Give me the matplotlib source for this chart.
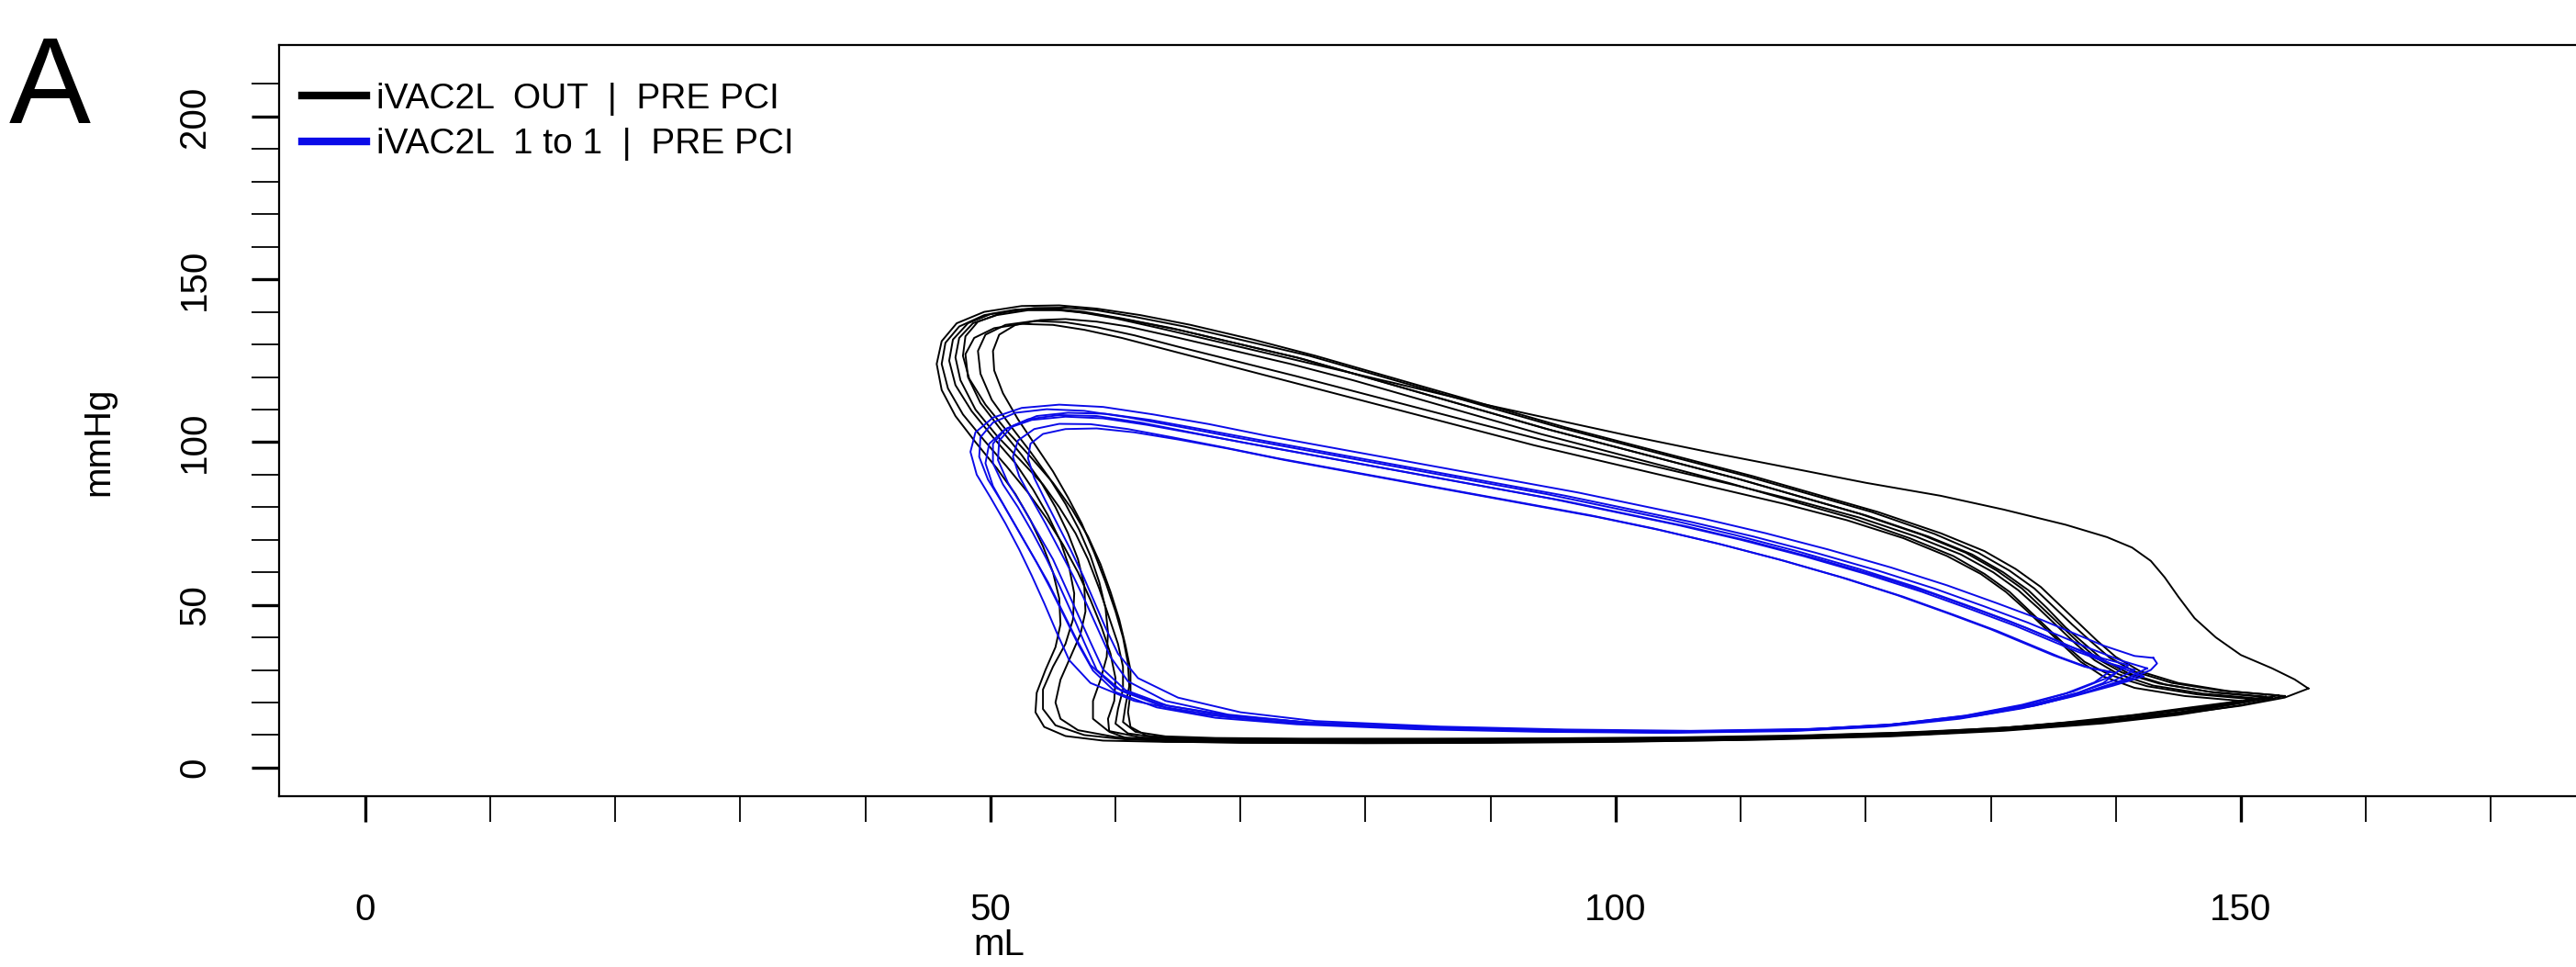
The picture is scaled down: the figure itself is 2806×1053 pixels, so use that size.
import matplotlib
matplotlib.use("Agg")
import matplotlib.pyplot as plt
from matplotlib.lines import Line2D

# PV loops (volume mL, pressure mmHg)
# iVAC2L OUT | PRE PCI  (black)
out_x1 = [152.5, 148, 144, 141, 139, 137.5, 136, 134.5, 133, 131, 128.5, 125, 120, 115, 110, 105, 100, 95, 90, 85, 80, 75, 70, 65, 61, 58, 55.5, 53, 50.5, 48.6, 47.5, 47.2, 47.6, 48.8, 50.5, 52.5, 54.2, 55.5, 56.8, 57.8, 58.7, 59.5, 60.2, 60.6, 60.6, 60.2, 60, 61, 63.5, 68, 75, 85, 95, 105, 115, 125, 133, 140, 145, 149, 152.5]
out_y1 = [21.5, 23, 25.5, 29, 33, 38, 43, 49, 54.5, 60, 65.5, 71, 77.5, 83, 88.5, 93.5, 98.5, 103.5, 109, 114.5, 120, 125.5, 130, 134.5, 137.5, 139.5, 140.5, 140.5, 139, 136.5, 132, 126, 119, 110, 102, 94, 87, 80, 72, 64, 55, 46, 38, 31, 24, 18, 13.5, 10.5, 9.2, 8.8, 8.6, 8.6, 8.7, 9, 9.6, 10.8, 12.5, 14.8, 17, 19.3, 21.5]
out_x2 = [153.5, 149, 145, 142, 140, 138.5, 137, 135.5, 134, 132, 129.5, 126, 121, 116, 111, 106, 101, 96, 91, 86, 81, 76, 71, 66, 62, 58.5, 55.5, 52.5, 49.5, 47.3, 46.1, 45.7, 46.1, 47.2, 48.8, 50.5, 52, 53.2, 54.2, 55, 55.5, 55.6, 55.2, 54.4, 53.7, 53.6, 54.3, 56, 59, 64, 72, 82, 92, 102, 112, 122, 131, 139, 145, 150, 153.5]
out_y2 = [22, 23.5, 26, 29.5, 34, 39, 44.5, 50, 55.5, 61, 66.5, 72, 78.5, 84, 89.5, 94.5, 99.5, 104.5, 110, 115.5, 121, 126.5, 131.5, 136, 139, 141, 142, 141.8, 140, 136.5, 131, 124, 116, 108, 100, 92, 84, 76, 68, 60, 52, 44, 37, 30, 23, 17, 12.5, 9.7, 8.3, 7.9, 7.8, 7.8, 7.9, 8.1, 8.6, 9.6, 11.3, 13.6, 16.2, 19.2, 22]
out_x3 = [151, 146.5, 142.5, 139.5, 137.5, 136, 134.5, 133, 131.5, 129.5, 127, 123.5, 119, 114, 109, 104, 99, 94, 89, 84, 79, 74, 69, 64.5, 61, 58.5, 56, 54, 52, 50.7, 50.2, 50.3, 51, 52.2, 53.6, 55, 56.2, 57.3, 58.3, 59.2, 60, 60.6, 61, 61.1, 60.8, 60.6, 61.6, 64, 68, 75, 85, 95, 105, 115, 125, 132, 138, 143, 147.5, 151]
out_y3 = [21, 22.5, 25, 28.5, 32.5, 37.5, 43, 48.5, 54, 59.5, 65, 70.5, 76.5, 82, 87.5, 92.5, 97.5, 102.5, 108, 113.5, 119, 124, 128.5, 132.5, 135.5, 137, 137.8, 137.5, 136, 133, 128, 122, 115, 107, 99, 91, 83, 75, 66, 57, 48, 40, 32, 25, 19, 14, 11, 9.6, 9.1, 8.9, 8.9, 9, 9.3, 9.9, 11, 12.5, 14.5, 16.8, 19, 21]
out_x4 = [150, 145.5, 141.5, 139, 137.2, 135.8, 134.3, 132.8, 131.2, 129.2, 126.5, 123, 118.5, 113.5, 108.5, 103.5, 98.5, 93.5, 88.5, 83.5, 78.5, 73.5, 68.5, 64, 60.5, 57.5, 55, 52.5, 50.3, 48.7, 48, 48.2, 49.2, 50.8, 52.5, 54, 55.2, 56.2, 57, 57.5, 57.6, 57.2, 56.4, 55.6, 55.2, 55.6, 57, 60, 65, 72, 82, 92, 102, 112, 122, 130, 136, 141.5, 146, 150]
out_y4 = [20.5, 22, 24.5, 28, 32.5, 37.5, 43, 48.5, 54, 59.5, 65, 70.5, 76, 81, 85.5, 90, 94.5, 99, 104, 109, 114, 119, 124, 128.5, 132, 134.5, 136, 136.3, 135, 132, 127, 120, 112, 104, 96, 88, 80, 72, 64, 56, 48, 41, 34, 27, 20, 15, 11.5, 9.4, 8.4, 8.1, 8, 8.1, 8.4, 9, 10.2, 11.9, 13.9, 16.2, 18.5, 20.5]
out_x5 = [155.4, 154.3, 152.5, 150, 148, 146.3, 145, 143.9, 142.8, 141.3, 139.3, 136, 131, 126, 120, 114.7, 108, 101, 95, 89, 83, 78, 73, 68, 63.5, 60, 57, 54.5, 52, 49.5, 47.5, 46.4, 46.1, 46.6, 47.8, 49.5, 51.3, 53, 54.5, 55.8, 57, 58, 58.9, 59.6, 60, 59.9, 59.4, 59.5, 61, 64, 70, 80, 90, 100, 110, 120, 130, 138, 145, 150, 153.5, 155.4]
out_y5 = [24.3, 27.1, 30.5, 34.6, 40, 45.9, 52.5, 58.5, 63.5, 67.6, 70.8, 74.6, 79.3, 83.5, 87.5, 91.5, 96.5, 102, 107, 112, 117.5, 122, 126.5, 131, 135, 138, 140, 141, 140.7, 139, 135.5, 130.5, 124, 116.5, 108.5, 100.5, 92.5, 84.5, 76.5, 68.5, 60, 51.5, 43, 35, 27.5, 20.5, 15, 11, 8.9, 8, 7.6, 7.5, 7.6, 7.9, 8.5, 9.7, 11.6, 13.8, 16.5, 19, 21.5, 24.3]
out_x6 = [152, 147.5, 143.5, 140.5, 138.5, 137, 135.5, 134, 132.5, 130.5, 128, 124.5, 119.5, 114.5, 109.5, 104.5, 99.5, 94.5, 89.5, 84.5, 79.5, 74.5, 69.5, 64.5, 60.5, 57.5, 55, 52.5, 50, 48.2, 47, 46.7, 47.2, 48.5, 50.2, 52, 53.4, 54.6, 55.6, 56.3, 56.7, 56.6, 56, 55, 54.2, 54.2, 55.2, 57.5, 61, 67, 75, 85, 95, 105, 115, 125, 133, 140, 145, 149, 152]
out_y6 = [21.8, 23.3, 25.8, 29.2, 33.5, 38.5, 44, 49.5, 55, 60.5, 66, 71.5, 78, 83.5, 89, 94, 99, 104, 109.5, 115, 120.5, 126, 130.5, 135, 138, 140, 141, 140.8, 139.3, 136.5, 131.5, 125, 117.5, 109.5, 101.5, 93.5, 85.5, 77.5, 69.5, 61.5, 53.5, 45.5, 38, 31, 24, 18, 13, 10, 8.6, 8.2, 8.1, 8.1, 8.3, 8.6, 9.2, 10.3, 12, 14.3, 16.8, 19.5, 21.8]
out_x7 = [153, 148.5, 144.5, 141.5, 139.5, 138, 136.5, 135, 133.5, 131.5, 129, 125.5, 120.5, 115.5, 110.5, 105.5, 100.5, 95.5, 90.5, 85.5, 80.5, 75.5, 70.5, 65.5, 61.5, 58.5, 56, 53.5, 51, 49, 48, 47.8, 48.3, 49.6, 51.3, 53.2, 55, 56.5, 57.8, 58.8, 59.6, 60.3, 60.8, 61.2, 61.2, 61, 61.2, 62.5, 65, 70, 78, 88, 98, 108, 118, 127, 135, 141, 146, 150, 153]
out_y7 = [22.2, 23.6, 26, 29.5, 33.8, 38.8, 44, 49.5, 55, 60.5, 66, 71.8, 78.5, 84, 89.5, 94.5, 99.5, 104.5, 110, 115.5, 121, 126.5, 131, 135.5, 138.5, 140.5, 141.3, 141.2, 139.8, 137, 132.5, 126.5, 119.5, 111.5, 103.5, 95.5, 87.5, 79.5, 71, 62.5, 54, 45.5, 37.5, 30, 23, 17, 12.5, 9.8, 9, 8.7, 8.6, 8.6, 8.8, 9.2, 9.9, 11.1, 12.8, 14.8, 17.2, 19.8, 22.2]
out_x8 = [151.5, 147, 143, 140.2, 138.3, 136.8, 135.3, 133.8, 132.2, 130.2, 127.6, 124, 119.5, 114.5, 109.5, 104.5, 99.5, 94.5, 89.5, 84.5, 79.5, 74.5, 69.5, 65, 61.5, 58.5, 56, 53.5, 51.2, 49.6, 49, 49.2, 50.1, 51.6, 53.2, 54.7, 56, 57.1, 58, 58.7, 59.2, 59.4, 59.3, 58.8, 58.2, 58.2, 59.4, 62, 66.5, 73, 82, 92, 102, 112, 122, 131, 137.5, 143, 147.5, 151.5]
out_y8 = [21.2, 22.7, 25.2, 28.7, 33, 38, 43.5, 49, 54.5, 60, 65.5, 71, 76.8, 82, 86.8, 91.3, 95.8, 100.3, 105.2, 110.2, 115.2, 120.2, 125, 129.3, 132.8, 135.3, 136.8, 137.2, 136, 133, 128, 121, 113, 105, 97, 89, 81, 73, 65, 57, 49, 41.5, 34, 27, 20.5, 15, 11.3, 9.3, 8.6, 8.4, 8.4, 8.5, 8.8, 9.4, 10.6, 12.2, 14.2, 16.5, 18.8, 21.2]

# iVAC2L 1 to 1 | PRE PCI  (blue)
one_x1 = [141.5, 139.5, 137, 134.5, 132, 128.5, 124.5, 120, 115, 110, 105, 100, 95, 90, 85, 80, 75, 70, 66, 62, 58.5, 55.5, 53, 51.2, 50.2, 50.2, 51, 52.2, 53.4, 54.5, 55.5, 56.5, 57.5, 58.5, 60.5, 64, 69, 75, 85, 95, 105, 115, 122, 128, 133, 137, 140, 141.5]
one_y1 = [30, 32, 35.5, 39.5, 43.5, 48.5, 54, 59.5, 65, 70, 74.5, 78.5, 82.5, 86, 89.5, 93, 96.5, 100, 103, 106, 108, 108.3, 107, 104, 99.5, 93.5, 87, 80, 72, 64, 56, 47.5, 38.5, 30, 23.5, 18.5, 15.5, 13.5, 12, 11.2, 10.8, 11.5, 13, 15.8, 19, 23, 27, 30]
one_x2 = [143, 141.5, 139, 136.5, 134, 130.5, 126.5, 122, 117, 112, 107, 102, 97, 92, 87, 82, 77, 72, 67.5, 63, 59, 55.5, 52.5, 50.2, 48.8, 48.4, 48.9, 50, 51.2, 52.3, 53.3, 54.3, 55.3, 56.3, 58, 61.5, 66.5, 73, 83, 93, 103, 113, 121, 128, 133.5, 137.5, 141, 142.8, 143.3, 143]
one_y2 = [33.7, 34.3, 37.5, 41.5, 45.5, 50.5, 56, 61.5, 67, 72, 76.5, 80.5, 84.5, 88, 91.5, 95, 98.5, 102, 105.5, 108.5, 110.8, 111.5, 110.5, 107.5, 103, 97, 90, 83, 75, 67, 59, 50.5, 41.5, 33, 26, 20.5, 16.5, 14, 12.3, 11.3, 10.8, 11.4, 12.8, 15.5, 19, 23, 27, 30, 32, 33.7]
one_x3 = [140, 138, 135.5, 133, 130.5, 127, 123, 118.5, 113.5, 108.5, 103.5, 98.5, 93.5, 88.5, 83.5, 78.5, 73.5, 69, 65, 61.5, 58.5, 56, 54.2, 53.2, 53, 53.5, 54.4, 55.4, 56.4, 57.4, 58.3, 59.2, 60.2, 61.8, 65, 70, 76, 86, 96, 106, 116, 123, 129, 133.5, 137, 139, 140]
one_y3 = [29, 30.5, 34, 38, 42, 47, 52.5, 58, 63.5, 68.5, 73, 77, 80.5, 84, 87.5, 91, 94.5, 98, 100.8, 103, 104.2, 104, 102.5, 99.5, 95, 89, 82, 74.5, 67, 59, 51, 43, 35, 27.5, 21.5, 17, 14.3, 12.6, 11.7, 11.3, 11.9, 13.5, 16.3, 19.5, 23, 26, 29]
one_x4 = [142.2, 140.2, 137.8, 135.3, 132.8, 129.3, 125.3, 120.8, 115.8, 110.8, 105.8, 100.8, 95.8, 90.8, 85.8, 80.8, 75.8, 70.8, 66.5, 62.5, 59, 56, 53.3, 51.2, 49.9, 49.6, 50.2, 51.3, 52.5, 53.7, 54.8, 55.9, 57, 58.2, 60, 63.3, 68, 74.5, 84, 94, 104, 114, 121.5, 127.5, 132.5, 136.5, 139.8, 142.2]
one_y4 = [28, 31, 34.8, 39, 43, 48, 53.5, 59, 64.5, 69.5, 74, 78, 82, 85.5, 89, 92.5, 96, 99.5, 102.5, 105.3, 107.3, 107.8, 106.8, 104, 99.5, 93.5, 86.5, 79, 71, 63, 55, 46.5, 38, 29.8, 23.2, 18.5, 15.3, 13.3, 11.8, 11, 10.7, 11.2, 12.6, 15, 18.2, 21.8, 25.2, 28]
one_x5 = [141, 139, 136.5, 134, 131.5, 128, 124, 119.5, 114.5, 109.5, 104.5, 99.5, 94.5, 89.5, 84.5, 79.5, 74.5, 69.5, 65, 61, 57.5, 54.5, 52, 50.2, 49.2, 49.1, 49.8, 51, 52.2, 53.4, 54.6, 55.7, 56.8, 58, 60, 63.5, 68.5, 75, 85, 95, 105, 115, 122, 128, 132.8, 136.6, 139.4, 141]
one_y5 = [31.5, 33.5, 37, 41, 45, 50, 55.5, 61, 66.5, 71.5, 76, 80, 84, 87.5, 91, 94.5, 98, 101.5, 104.8, 107.6, 109.6, 110.1, 109, 106, 101.5, 95.5, 88.5, 81, 73, 65, 57, 48.5, 40, 31.5, 24.5, 19.5, 16.2, 14, 12.4, 11.5, 11.1, 11.7, 13.2, 15.9, 19.3, 23.4, 27.7, 31.5]
one_x6 = [139.5, 137.5, 135, 132.5, 130, 126.5, 122.5, 118, 113, 108, 103, 98, 93, 88, 83, 78, 73, 68.5, 64.5, 61, 58, 55.5, 53.5, 52.2, 51.8, 52.3, 53.3, 54.4, 55.5, 56.6, 57.6, 58.6, 59.6, 61, 64, 69, 75.5, 85, 95, 105, 115, 122, 128, 132.5, 136, 138.3, 139.5]
one_y6 = [29.5, 31, 34.5, 38.5, 42.5, 47.5, 53, 58.5, 64, 69, 73.5, 77.5, 81, 84.5, 88, 91.5, 95, 98.5, 101.5, 104, 105.5, 105.6, 104, 100.5, 95.5, 89.5, 82.5, 75, 67, 59, 51, 42.5, 34, 26.5, 20.5, 16.3, 13.8, 12.2, 11.4, 11, 11.6, 13.2, 16, 19.3, 22.8, 26.2, 29.5]
one_x7 = [142.5, 140.5, 138, 135.5, 133, 129.5, 125.5, 121, 116, 111, 106, 101, 96, 91, 86, 81, 76, 71, 66.8, 62.8, 59.2, 56.2, 53.7, 51.8, 50.7, 50.6, 51.4, 52.6, 53.8, 55, 56, 57, 58, 59, 60.8, 64.2, 69.5, 76, 86, 96, 106, 116, 123, 129, 134, 137.8, 140.8, 142.5]
one_y7 = [30.5, 32.8, 36.5, 40.5, 44.5, 49.5, 55, 60.5, 66, 71, 75.5, 79.5, 83.5, 87, 90.5, 94, 97.5, 101, 104, 106.8, 108.7, 109, 108, 105, 100.5, 94.5, 87.5, 80, 72, 64, 55.5, 47, 38.5, 30.2, 23.8, 19, 15.8, 13.7, 12.1, 11.3, 11, 11.7, 13.3, 16, 19.5, 23.4, 27.2, 30.5]

labels = ["iVAC2L  OUT  |  PRE PCI", "iVAC2L  1 to 1  |  PRE PCI"]
colors = ["black", "#0b0be8"]
x_major = [0, 50, 100, 150]
y_major = [0, 50, 100, 150, 200]

out_loops = [(out_x1, out_y1), (out_x2, out_y2), (out_x3, out_y3), (out_x4, out_y4),
             (out_x5, out_y5), (out_x6, out_y6), (out_x7, out_y7), (out_x8, out_y8)]
one_loops = [(one_x1, one_y1), (one_x2, one_y2), (one_x3, one_y3), (one_x4, one_y4),
             (one_x5, one_y5), (one_x6, one_y6), (one_x7, one_y7)]

plt.rcParams["font.family"] = ["Liberation Sans", "DejaVu Sans"]

fig = plt.figure(figsize=(28.06, 10.53), dpi=100)
# axes runs past the right edge, like the cropped original
ax = fig.add_axes([0.1083, 0.1769, 0.9043, 0.7763])

for lx, ly in out_loops:
    ax.plot(lx, ly, color=colors[0], lw=1.4)
for lx, ly in one_loops:
    ax.plot(lx, ly, color=colors[1], lw=1.4)

ax.set_xlim(-6.9, 179.4)
ax.set_ylim(-8.7, 221.9)

ax.set_xticks(x_major)
ax.set_xticks(range(0, 180, 10), minor=True)
ax.set_yticks(y_major)
ax.set_yticks(range(0, 220, 10), minor=True)
ax.tick_params(axis="x", which="both", length=20, direction="out", labelsize=29, pad=56)
ax.tick_params(axis="y", which="both", length=21.5, direction="out", labelsize=29, pad=31)
ax.tick_params(which="major", width=2.4)
ax.tick_params(which="minor", width=1.3)
for t in ax.get_yticklabels():
    t.set_rotation(90)
    t.set_va("center")
for s in ax.spines.values():
    s.set_linewidth(1.6)
ax.spines["right"].set_visible(False)

fig.text(1088 / 2806, 1 - 1029 / 1053, "mL", fontsize=29, ha="center", va="center")
fig.text(107 / 2806, 1 - 481 / 1053, "mmHg", fontsize=29, ha="center", va="center", rotation=90)
fig.text(54 / 2806, 1 - 134 / 1053, "A", fontsize=96, ha="center", va="baseline")

handles = [Line2D([0], [0], color=c, lw=6) for c in colors]
ax.legend(handles, labels, loc="upper left", bbox_to_anchor=(0.0067, 0.9596),
          frameon=False, fontsize=28, handlelength=1.8, handletextpad=0.3,
          labelspacing=0.34, borderaxespad=0, borderpad=0.2)

fig.savefig("out.png", dpi=100)
